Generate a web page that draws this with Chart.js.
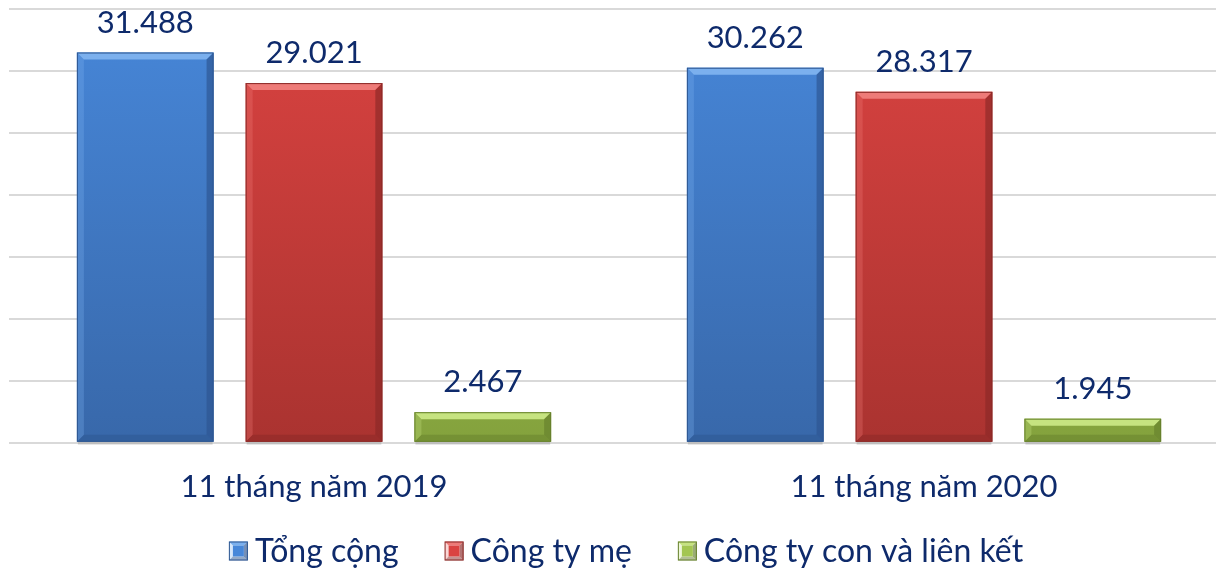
<!DOCTYPE html>
<html>
<head>
<meta charset="utf-8">
<script src="https://cdn.jsdelivr.net/npm/chart.js@4"></script>
<style>
    html, body { margin: 0; padding: 0; background: #fff; overflow: hidden; }
    #wrap { width: 1229px; height: 569px; }
</style>
</head>
<body>
<div id="wrap"><canvas id="chart"></canvas></div>
<script>
const categories = ['11 tháng năm 2019', '11 tháng năm 2020'];
const seriesNames = ['Tổng cộng', 'Công ty mẹ', 'Công ty con và liên kết'];
const tongCong = [31488, 30262];
const congTyMe = [29021, 28317];
const congTyCon = [2467, 1945];

const navy = '#0E2A6B';
const fontFamily = 'Lato, "Open Sans", sans-serif';
// main / light / dark tone for each series
const tones = [
    { top: '#4787D9', bottom: '#3868AA', light: '#7BB0EE', dark: '#2C5590' },
    { top: '#DA4341', bottom: '#AA3330', light: '#EE7B78', dark: '#8A2826' },
    { top: '#A3C651', bottom: '#84A23D', light: '#C6E380', dark: '#66802C' }
];

function fmt(v) {
    return v.toString().replace(/\B(?=(\d{3})+(?!\d))/g, '.');
}

function barFill(i) {
    return (context) => {
        const area = context.chart.chartArea;
        if (!area) return tones[i].top;
        const g = context.chart.ctx.createLinearGradient(0, area.top, 0, area.bottom);
        g.addColorStop(0, tones[i].top);
        g.addColorStop(1, tones[i].bottom);
        return g;
    };
}

function bevelBox(ctx, l, t, r, b, e, tone) {
    ctx.fillStyle = tone.light;
    ctx.beginPath();
    ctx.moveTo(l, t); ctx.lineTo(r, t); ctx.lineTo(r - e, t + e); ctx.lineTo(l + e, t + e);
    ctx.closePath(); ctx.fill();
    ctx.fillStyle = tone.dark;
    ctx.globalAlpha = 0.65;
    ctx.beginPath();
    ctx.moveTo(r, t); ctx.lineTo(r, b); ctx.lineTo(r - e, b - e); ctx.lineTo(r - e, t + e);
    ctx.closePath(); ctx.fill();
    ctx.globalAlpha = 0.5;
    ctx.beginPath();
    ctx.moveTo(l, b); ctx.lineTo(r, b); ctx.lineTo(r - e, b - e); ctx.lineTo(l + e, b - e);
    ctx.closePath(); ctx.fill();
    ctx.globalAlpha = 0.3;
    ctx.fillStyle = tone.light;
    ctx.beginPath();
    ctx.moveTo(l, t); ctx.lineTo(l + e, t + e); ctx.lineTo(l + e, b - e); ctx.lineTo(l, b);
    ctx.closePath(); ctx.fill();
    ctx.globalAlpha = 1;
    ctx.strokeStyle = tone.dark;
    ctx.lineWidth = 1;
    ctx.strokeRect(l + 0.5, t + 0.5, r - l - 1, b - t - 1);
}

// bevel edges + value labels on top of each bar
const bevelPlugin = {
    id: 'bevel',
    afterDatasetsDraw(chart) {
        const ctx = chart.ctx;
        chart.data.datasets.forEach((ds, i) => {
            const meta = chart.getDatasetMeta(i);
            meta.data.forEach((bar, j) => {
                const l = bar.x - bar.width / 2, r = bar.x + bar.width / 2;
                ctx.save();
                // soft shadow under the bar
                ctx.fillStyle = 'rgba(0,0,0,0.12)';
                ctx.fillRect(l + 1, bar.base, r - l - 2, 3);
                bevelBox(ctx, l, bar.y, r, bar.base, 7, tones[i]);
                ctx.fillStyle = navy;
                ctx.font = '31px ' + fontFamily;
                ctx.textAlign = 'center';
                ctx.textBaseline = 'middle';
                ctx.fillText(fmt(ds.data[j]), bar.x, bar.y - 30);
                ctx.restore();
            });
        });
    }
};

// legend drawn by hand so the box/text spacing matches
const legendPlugin = {
    id: 'customLegend',
    afterDraw(chart) {
        const ctx = chart.ctx;
        ctx.save();
        ctx.font = '32px ' + fontFamily;
        const box = 19, gap = 7, spacing = 46;
        const widths = seriesNames.map(n => box + gap + ctx.measureText(n).width);
        const total = widths.reduce((a, b) => a + b, 0) + spacing * (widths.length - 1);
        let x = 626 - total / 2;
        const cy = 551;
        seriesNames.forEach((name, i) => {
            bevelBox(ctx, x, cy - box / 2, x + box, cy + box / 2, 4, tones[i]);
            ctx.fillStyle = tones[i].top;
            ctx.fillRect(x + 4, cy - box / 2 + 4, box - 8, box - 8);
            ctx.fillStyle = navy;
            ctx.textAlign = 'left';
            ctx.textBaseline = 'middle';
            ctx.fillText(name, x + box + gap, cy + 1);
            x += widths[i] + spacing;
        });
        ctx.restore();
    }
};

const ctx = document.getElementById('chart').getContext('2d');
const chart = new Chart(ctx, {
    type: 'bar',
    data: {
        labels: categories,
        datasets: [tongCong, congTyMe, congTyCon].map((data, i) => ({
            label: seriesNames[i],
            data: data,
            backgroundColor: barFill(i),
            borderWidth: 0,
            categoryPercentage: 0.83,
            barPercentage: 0.81
        }))
    },
    options: {
        responsive: true,
        maintainAspectRatio: false,
        animation: false,
        layout: { padding: { left: 9, top: 9, right: 0, bottom: 45 } },
        scales: {
            x: {
                grid: { display: false },
                border: { display: false },
                ticks: {
                    color: navy,
                    font: { family: fontFamily, size: 31 },
                    padding: 18
                }
            },
            y: {
                min: 0,
                max: 35000,
                ticks: { display: false, stepSize: 5000 },
                grid: { color: '#D9D9D9', lineWidth: 2, drawTicks: false },
                border: { display: false }
            }
        },
        plugins: {
            tooltip: { enabled: false },
            legend: { display: false }
        }
    },
    plugins: [bevelPlugin, legendPlugin]
});
</script>
</body>
</html>
